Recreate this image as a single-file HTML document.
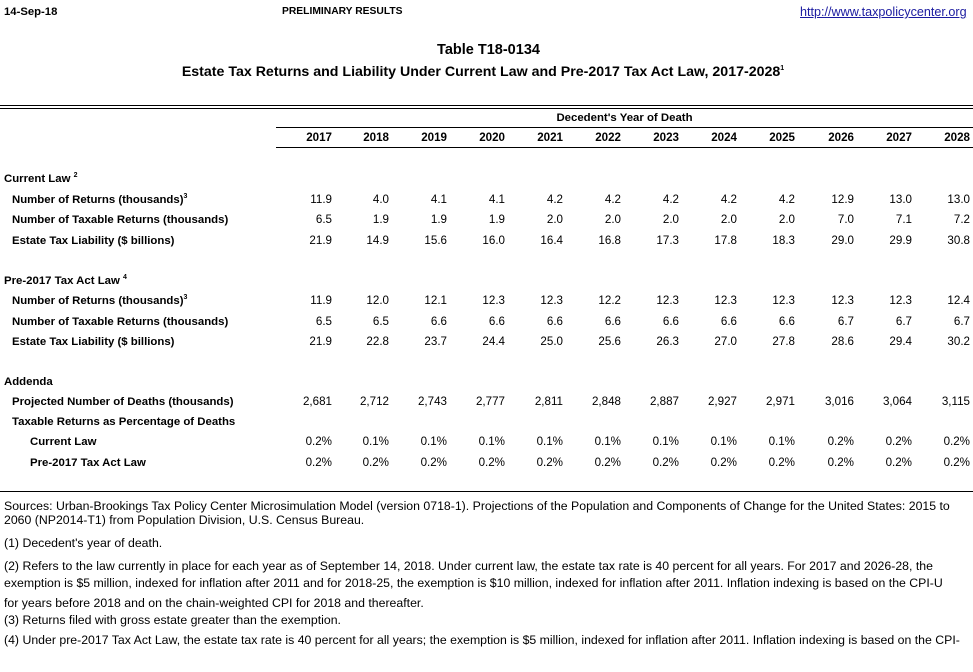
<!DOCTYPE html>
<html><head><meta charset="utf-8"><style>
body{margin:0;width:973px;height:672px;overflow:hidden;background:#fff;font-family:"Liberation Sans",sans-serif;color:#000;position:relative}
.t{position:absolute;white-space:nowrap;line-height:14px;font-size:11px}
.b{font-weight:bold}
.n{position:absolute;white-space:nowrap;line-height:14px;font-size:11.6px;text-align:right;width:55px}
.l{position:absolute;background:#000;height:1px}
sup{font-size:7px;vertical-align:top;position:relative;top:-3px}
.f{position:absolute;left:4px;white-space:nowrap;line-height:14px;font-size:12.3px}
</style></head><body>
<div class="t b" style="left:4px;top:5px;font-size:11.3px">14-Sep-18</div>
<div class="t b" style="left:282px;top:5px;font-size:10.3px">PRELIMINARY RESULTS</div>
<div class="t" style="left:800px;top:5px;font-size:12.6px;color:#1a1aa0;text-decoration:underline">http://www.taxpolicycenter.org</div>
<div class="t b" style="left:0;width:977px;text-align:center;top:43px;font-size:14.5px">Table T18-0134</div>
<div class="t b" style="left:0;width:966px;text-align:center;top:65px;font-size:14.2px">Estate Tax Returns and Liability Under Current Law and Pre-2017 Tax Act Law, 2017-2028<sup>1</sup></div>
<div class="l" style="left:0;width:973px;top:105px"></div>
<div class="l" style="left:0;width:973px;top:108px"></div>
<div class="t b" style="left:276px;width:697px;text-align:center;top:111px;font-size:11.4px">Decedent's Year of Death</div>
<div class="l" style="left:276px;width:697px;top:127px"></div>
<div class="l" style="left:276px;width:697px;top:147px"></div>
<div class="l" style="left:0;width:973px;top:491px"></div>
<div id="g"></div>
<script>
var R=[332,389,447,505,563,621,679,737,795,854,912,970];
var h='';
function row(y,vals,b){vals.forEach(function(v,i){h+='<div class="n'+(b?' b':'')+'" style="left:'+(R[i]-55)+'px;top:'+(y-7)+'px">'+v+'</div>';});}
function lab(x,y,s){h+='<div class="t b" style="left:'+x+'px;top:'+(y-7)+'px;font-size:11.4px">'+s+'</div>';}
row(138,['2017','2018','2019','2020','2021','2022','2023','2024','2025','2026','2027','2028'],1);
lab(4,179,'Current Law <sup>2</sup>');
lab(12,200,'Number of Returns (thousands)<sup>3</sup>');row(200,['11.9','4.0','4.1','4.1','4.2','4.2','4.2','4.2','4.2','12.9','13.0','13.0']);
lab(12,220,'Number of Taxable Returns (thousands)');row(220,['6.5','1.9','1.9','1.9','2.0','2.0','2.0','2.0','2.0','7.0','7.1','7.2']);
lab(12,241,'Estate Tax Liability ($ billions)');row(241,['21.9','14.9','15.6','16.0','16.4','16.8','17.3','17.8','18.3','29.0','29.9','30.8']);
lab(4,281,'Pre-2017 Tax Act Law <sup>4</sup>');
lab(12,301,'Number of Returns (thousands)<sup>3</sup>');row(301,['11.9','12.0','12.1','12.3','12.3','12.2','12.3','12.3','12.3','12.3','12.3','12.4']);
lab(12,322,'Number of Taxable Returns (thousands)');row(322,['6.5','6.5','6.6','6.6','6.6','6.6','6.6','6.6','6.6','6.7','6.7','6.7']);
lab(12,342,'Estate Tax Liability ($ billions)');row(342,['21.9','22.8','23.7','24.4','25.0','25.6','26.3','27.0','27.8','28.6','29.4','30.2']);
lab(4,382,'Addenda');
lab(12,402,'Projected Number of Deaths (thousands)');row(402,['2,681','2,712','2,743','2,777','2,811','2,848','2,887','2,927','2,971','3,016','3,064','3,115']);
lab(12,422,'Taxable Returns as Percentage of Deaths');
lab(30,442,'Current Law');row(442,['0.2%','0.1%','0.1%','0.1%','0.1%','0.1%','0.1%','0.1%','0.1%','0.2%','0.2%','0.2%']);
lab(30,463,'Pre-2017 Tax Act Law');row(463,['0.2%','0.2%','0.2%','0.2%','0.2%','0.2%','0.2%','0.2%','0.2%','0.2%','0.2%','0.2%']);
var F=[[506,'Sources: Urban-Brookings Tax Policy Center Microsimulation Model (version 0718-1). Projections of the Population and Components of Change for the United States: 2015 to'],
[520,'2060 (NP2014-T1) from Population Division, U.S. Census Bureau.'],
[543,'(1) Decedent\'s year of death.'],
[566,'(2) Refers to the law currently in place for each year as of September 14, 2018. Under current law, the estate tax rate is 40 percent for all years. For 2017 and 2026-28, the'],
[583,'exemption is $5 million, indexed for inflation after 2011 and for 2018-25, the exemption is $10 million, indexed for inflation after 2011. Inflation indexing is based on the CPI-U'],
[603,'for years before 2018 and on the chain-weighted CPI for 2018 and thereafter.'],
[620,'(3) Returns filed with gross estate greater than the exemption.'],
[640,'(4) Under pre-2017 Tax Act Law, the estate tax rate is 40 percent for all years; the exemption is $5 million, indexed for inflation after 2011. Inflation indexing is based on the CPI-']];
F.forEach(function(f){h+='<div class="f" style="top:'+(f[0]-7)+'px">'+f[1]+'</div>';});
document.getElementById('g').innerHTML=h;
</script>
</body></html>
